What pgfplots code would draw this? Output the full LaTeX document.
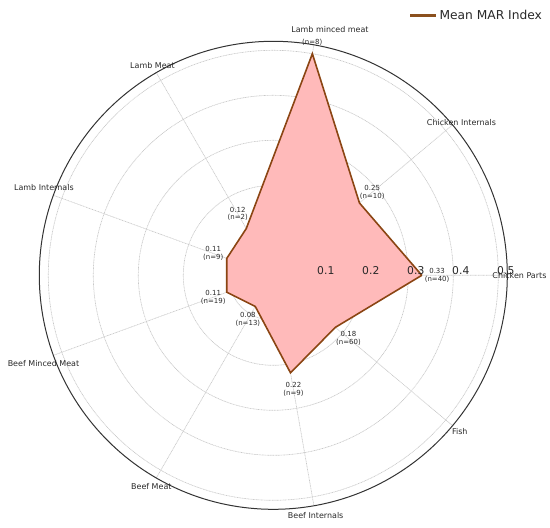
\documentclass[border=0pt]{standalone}
\usepackage{fontspec}
\setmainfont{DejaVu Sans}
\usepackage{pgfplots}
\pgfplotsset{compat=1.18}
\usepgfplotslibrary{polar}
\definecolor{edgec}{RGB}{139,69,19}
\definecolor{legc}{RGB}{139,80,30}
\definecolor{fillc}{RGB}{255,186,186}
\definecolor{gridc}{RGB}{200,200,200}
\definecolor{txtc}{RGB}{40,40,40}
\newcommand{\catfont}{\fontsize{8}{9.2}\selectfont}
\newcommand{\valfont}{\fontsize{7}{7.6}\selectfont}
\newcommand{\tickfont}{\fontsize{10.8}{12}\selectfont}
\begin{document}
\begin{tikzpicture}
\path[use as bounding box] (-273.3bp,-252.7bp) rectangle (276.7bp,275.3bp);
\begin{polaraxis}[
  at={(0,0)}, anchor=center,
  scale only axis, width=468bp, height=468bp,
  xmin=0, xmax=360, ymin=0, ymax=0.52,
  xtick={0,40,...,320}, xticklabels={},
  ytick={0.1,0.2,0.3,0.4,0.5}, yticklabels={},
  major tick length=0pt,
  grid=major,
  major grid style={gridc, dash pattern=on 1bp off 0.6bp, line width=0.65bp},
  axis line style={black!80, line width=1bp},
  y axis line style={draw=none},
  legend style={at={(1.085,1.075)}, anchor=north east, draw=none, fill=none,
    font=\fontsize{12.3}{14}\selectfont\color{txtc}, legend cell align=left},
  legend image code/.code={\draw[legc, line width=2.6bp] (0bp,0bp) -- (26bp,0bp);},
  clip=false,
]
\addplot[fill=fillc, draw=none, forget plot] coordinates {
  (0,0.33) (40,0.25) (80,0.50) (120,0.12) (160,0.11)
  (200,0.11) (240,0.08) (280,0.22) (320,0.18) (360,0.33)
};
\addplot[edgec, line width=1.6bp, no marks] coordinates {
  (0,0.33) (40,0.25) (80,0.50) (120,0.12) (160,0.11)
  (200,0.11) (240,0.08) (280,0.22) (320,0.18) (360,0.33)
};
\addlegendentry{Mean MAR Index}
% radial tick labels
\node[font=\tickfont, text=txtc, xshift=7.5bp, yshift=4.6bp, inner sep=0pt] at (axis cs:0,0.1) {0.1};
\node[font=\tickfont, text=txtc, xshift=7.5bp, yshift=4.6bp, inner sep=0pt] at (axis cs:0,0.2) {0.2};
\node[font=\tickfont, text=txtc, xshift=7.5bp, yshift=4.6bp, inner sep=0pt] at (axis cs:0,0.3) {0.3};
\node[font=\tickfont, text=txtc, xshift=7.5bp, yshift=4.6bp, inner sep=0pt] at (axis cs:0,0.4) {0.4};
\node[font=\tickfont, text=txtc, xshift=7.5bp, yshift=4.6bp, inner sep=0pt] at (axis cs:0,0.5) {0.5};
% category labels
\node[font=\catfont, text=txtc] at (axis cs:0,0.547) {Chicken Parts};
\node[font=\catfont, text=txtc] at (axis cs:39,0.538) {Chicken Internals};
\node[font=\catfont, text=txtc] at (axis cs:77,0.56) {Lamb minced meat};
\node[font=\catfont, text=txtc] at (axis cs:120,0.537) {Lamb Meat};
\node[font=\catfont, text=txtc] at (axis cs:159,0.546) {Lamb Internals};
\node[font=\catfont, text=txtc] at (axis cs:201,0.547) {Beef Minced Meat};
\node[font=\catfont, text=txtc] at (axis cs:240,0.542) {Beef Meat};
\node[font=\catfont, text=txtc] at (axis cs:280,0.542) {Beef Internals};
\node[font=\catfont, text=txtc] at (axis cs:320,0.541) {Fish};
% value labels
\node[font=\valfont, text=txtc, align=center, inner sep=0pt] at (axis cs:0,0.364) {0.33\\(n=40)};
\node[font=\valfont, text=txtc, align=center, inner sep=0pt] at (axis cs:40,0.287) {0.25\\(n=10)};
\node[font=\valfont, text=txtc, align=center, inner sep=0pt] at (axis cs:80.5,0.525) {(n=8)};
\node[font=\valfont, text=txtc, align=center, inner sep=0pt] at (axis cs:120,0.158) {0.12\\(n=2)};
\node[font=\valfont, text=txtc, align=center, inner sep=0pt] at (axis cs:160,0.142) {0.11\\(n=9)};
\node[font=\valfont, text=txtc, align=center, inner sep=0pt] at (axis cs:200,0.142) {0.11\\(n=19)};
\node[font=\valfont, text=txtc, align=center, inner sep=0pt] at (axis cs:240,0.113) {0.08\\(n=13)};
\node[font=\valfont, text=txtc, align=center, inner sep=0pt] at (axis cs:280,0.258) {0.22\\(n=9)};
\node[font=\valfont, text=txtc, align=center, inner sep=0pt] at (axis cs:320,0.218) {0.18\\(n=60)};
\end{polaraxis}
\end{tikzpicture}
\end{document}
